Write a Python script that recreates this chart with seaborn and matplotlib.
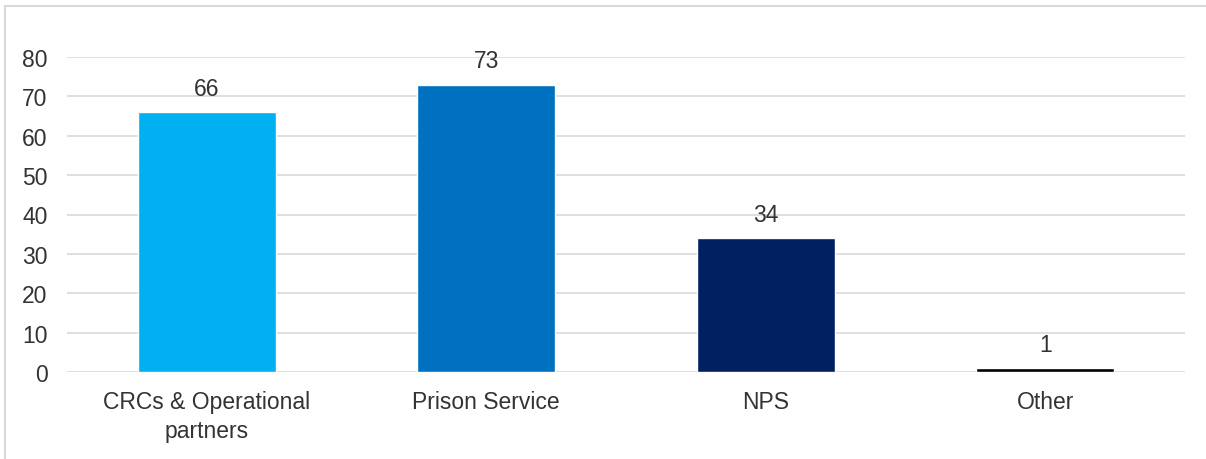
import matplotlib
matplotlib.use("Agg")
import matplotlib.pyplot as plt
import seaborn as sns
import pandas as pd
from matplotlib.patches import Rectangle

categories = ["CRCs & Operational\npartners", "Prison Service", "NPS", "Other"]
values = [66, 73, 34, 1]
colors = ["#00B0F0", "#0070C0", "#002060", "#000000"]
yticks = [0, 10, 20, 30, 40, 50, 60, 70, 80]

sns.set_theme(style="white")
plt.rcParams["font.family"] = ["Liberation Sans", "DejaVu Sans"]

df = pd.DataFrame({"cat": categories, "val": values})

fig = plt.figure(figsize=(12.06, 4.6), dpi=100)
ax = fig.add_axes([67/1206, 87/460, (1185-67)/1206, (373-58)/460])

sns.barplot(data=df, x="cat", y="val", hue="cat", palette=colors, width=0.494,
            legend=False, ax=ax, zorder=3, saturation=1)

ax.set_ylim(0, 80)
ax.set_xlim(-0.5, 3.5)
ax.set_yticks(yticks)
ax.yaxis.grid(True, color="#D9D9D9", linewidth=1.2, zorder=0)
ax.set_axisbelow(True)
for s in ax.spines.values():
    s.set_visible(False)
ax.set_xlabel("")
ax.set_ylabel("")
ax.tick_params(axis="both", length=0, labelsize=16.5, colors="#333333")
ax.tick_params(axis="y", pad=14)
ax.tick_params(axis="x", pad=13)
for lab in ax.get_xticklabels():
    lab.set_linespacing(1.35)

for container in ax.containers:
    ax.bar_label(container, padding=9, fontsize=16.5, color="#333333")

fig.patches.append(Rectangle((4.5/1206, -10/460), 1300/1206, (460 - 6.5 + 10)/460,
                             transform=fig.transFigure, fill=False,
                             edgecolor="#D9D9D9", linewidth=1.5))

fig.savefig("out.png", dpi=100)
